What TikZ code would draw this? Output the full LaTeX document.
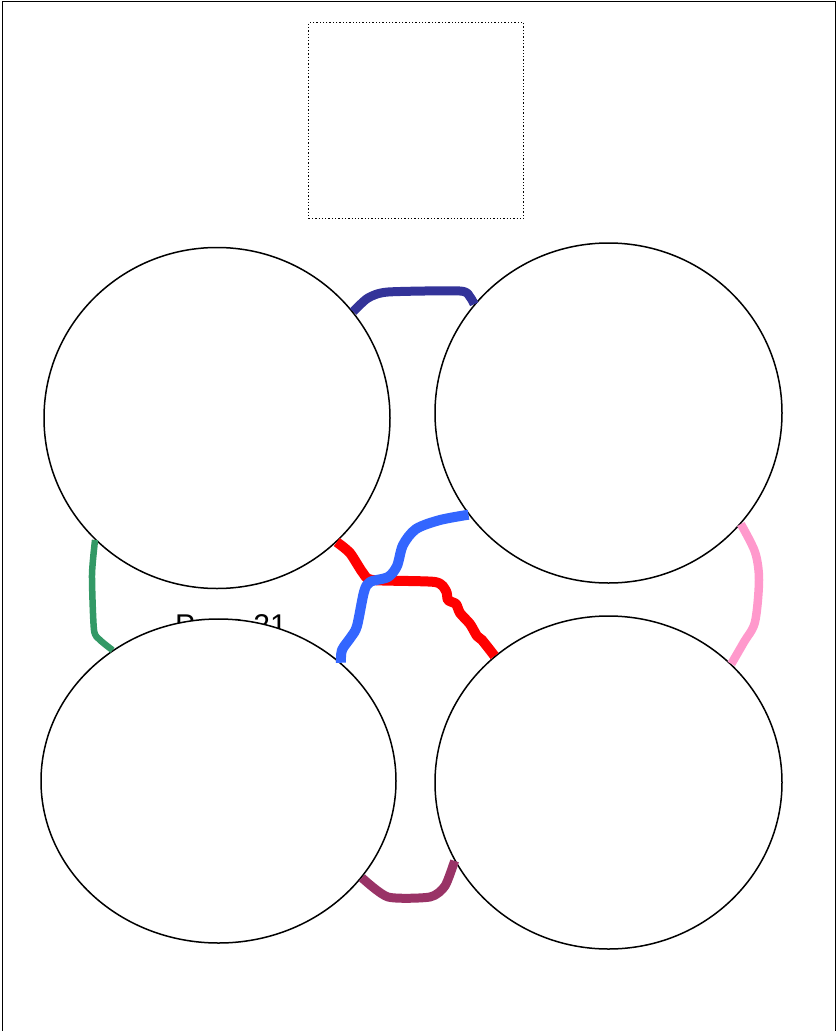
\documentclass[tikz,border=0pt]{standalone}
\usepackage{fontspec}
\setmainfont{Liberation Sans}
\usetikzlibrary{shapes.geometric}
\definecolor{navy}{HTML}{333399}
\definecolor{leaf}{HTML}{339966}
\definecolor{rose}{HTML}{FF99CC}
\definecolor{plum}{HTML}{993366}
\definecolor{sky}{HTML}{3366FF}
\begin{document}
\begin{tikzpicture}[x=1pt, y=-1pt,
  disc/.style={draw, ellipse, fill=white, line width=1.5pt, inner sep=0pt},
  link/.style={line width=9pt, line join=round, line cap=butt}]
\useasboundingbox (0,0) rectangle (837,1031);
\node (frame) [draw, line width=1.3pt, minimum width=833, minimum height=1040, anchor=north west] at (2,1) {};
\node (slot) [draw, dotted, line width=1.3pt, minimum width=215, minimum height=196, anchor=north west] at (308,22) {};
\node (page) [anchor=base, font=\fontsize{30}{33}\selectfont] at (231,635) {Page 21};
\node (tl) [disc, minimum width=346, minimum height=341] at (217,418) {};
\node (tr) [disc, minimum width=347, minimum height=340] at (608.5,413) {};
\node (bl) [disc, minimum width=355, minimum height=324] at (218.5,781) {};
\node (br) [disc, minimum width=347, minimum height=333] at (608.5,782.5) {};
% links between the discs
\draw[link, navy] plot[smooth, tension=0.4] coordinates {(tl.38) (368,298) (388,292) (460,291) (470,297) (tr.141)};
\draw[link, leaf, line width=6.5pt] plot[smooth, tension=0.4] coordinates {(tl.225) (92,575) (94,630) (100,640) (bl.129)};
\draw[link, rose, line width=8.5pt] plot[smooth, tension=0.5] coordinates {(tr.-40) (755,552) (759,580) (755,622) (744,642) (br.44)};
\draw[link, plum] plot[smooth, tension=0.4] coordinates {(bl.-34) (388,897) (430,897) (445,886) (br.207)};
\draw[link, red, line width=10pt] plot[smooth, tension=0.4] coordinates {(tl.-46) (350,553) (363,573) (373,580) (435,582) (446,591) (448,600) (456,604) (460,613) (470,624) (477,636) (482,640) (br.132)};
\draw[link, sky, line width=10pt] plot[smooth, tension=0.5] coordinates {(tr.216) (440,520) (416,529) (403,545) (397,566) (388,577) (370,582) (364,592) (357,626) (351,637) (342,650) (bl.44)};
\end{tikzpicture}
\end{document}
